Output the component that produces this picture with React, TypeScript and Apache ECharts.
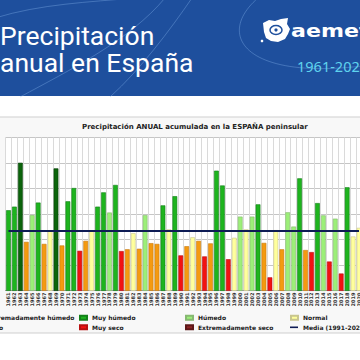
import React, { useEffect, useRef } from "react";
import * as echarts from "echarts";

const YEARS = [
  "1961","1962","1963","1964","1965","1966","1967","1968","1969","1970",
  "1971","1972","1973","1974","1975","1976","1977","1978","1979","1980",
  "1981","1982","1983","1984","1985","1986","1987","1988","1989","1990",
  "1991","1992","1993","1994","1995","1996","1997","1998","1999","2000",
  "2001","2002","2003","2004","2005","2006","2007","2008","2009","2010",
  "2011","2012","2013","2014","2015","2016","2017","2018","2019","2020",
];

const PRECIP = [
  715, 729, 901, 591, 696, 745, 583, 636, 879, 577,
  750, 802, 556, 595, 636, 729, 785, 706, 814, 555,
  562, 625, 564, 696, 586, 583, 734, 640, 770, 538,
  574, 609, 595, 534, 585, 870, 812, 523, 607, 690,
  640, 690, 738, 587, 452, 637, 562, 707, 651, 840,
  559, 551, 743, 695, 514, 682, 467, 805, 612, 646,
];

const CLASS = [
  "MH","MH","EH","S","H","MH","S","N","EH","S",
  "MH","MH","MS","S","N","MH","MH","H","MH","MS",
  "S","N","S","H","S","S","MH","N","MH","MS",
  "S","N","S","MS","S","MH","MH","MS","N","H",
  "N","H","MH","S","MS","N","S","H","H","MH",
  "S","MS","MH","H","MS","H","MS","MH","N","N",
];

const MEAN = 636;
const MEAN_NAME = "Media (1991-2020)";

const Y_MIN = 400;
const Y_MAX = 1000;
const Y_STEP = 100;

const CATEGORIES = [
  { code: "EH", name: "Extremadamente húmedo", color: "#0b640b", border: "#063f06" },
  { code: "MH", name: "Muy húmedo", color: "#1eb41e", border: "#13801a" },
  { code: "H", name: "Húmedo", color: "#9cef78", border: "#86b872" },
  { code: "N", name: "Normal", color: "#ffff9c", border: "#c9c68e" },
  { code: "S", name: "Seco", color: "#f49a10", border: "#c77c12" },
  { code: "MS", name: "Muy seco", color: "#f21212", border: "#b81010" },
  { code: "ES", name: "Extremadamente seco", color: "#8c2626", border: "#5e1818" },
];

const LEGEND_LAYOUT = [
  { name: "Extremadamente húmedo", left: -26, row: 0 },
  { name: "Muy húmedo", left: 79, row: 0 },
  { name: "Húmedo", left: 185, row: 0 },
  { name: "Normal", left: 290, row: 0 },
  { name: "Seco", left: -26, row: 1 },
  { name: "Muy seco", left: 79, row: 1 },
  { name: "Extremadamente seco", left: 185, row: 1 },
  { name: MEAN_NAME, left: 290, row: 1 },
];

const FONT = "DejaVu Sans";

echarts.graphic.registerShape(
  "aemetLogo",
  echarts.graphic.extendPath(
    "M2 5 L8 2 L14 3 L20 1 L27 0 L26 6 L29 11 L27 16 L24 21 L17 24 L10 23 L5 20 L3 14 Z",
    {}
  )
);

export default function App() {
  const ref = useRef<HTMLDivElement>(null);

  useEffect(() => {
    if (!ref.current) return;
    const chart = echarts.init(ref.current, undefined, { renderer: "svg" });

    const barSeries = CATEGORIES.map((c) => ({
      type: "bar",
      name: c.name,
      stack: "p",
      barCategoryGap: "20%",
      data: PRECIP.map((v, i) => (CLASS[i] === c.code ? v : "-")),
      itemStyle: { color: c.color, borderColor: c.border, borderWidth: 0.6 },
      emphasis: { disabled: true },
    }));

    const legends = LEGEND_LAYOUT.map((l) => ({
      data: [l.name],
      left: l.left,
      top: l.row === 0 ? 313.7 : 323.3,
      padding: 0,
      itemWidth: l.name === MEAN_NAME ? 8 : 7,
      itemHeight: l.name === MEAN_NAME ? 1.6 : 4,
      icon: "rect",
      selectedMode: false,
      textStyle: {
        fontSize: 6,
        fontWeight: "bold",
        fontFamily: FONT,
        color: "#222",
        lineHeight: 8,
      },
    }));

    const hdrLine = "rgba(140,185,240,0.35)";

    chart.setOption({
      animation: false,
      backgroundColor: "#ffffff",
      title: {
        text: "Precipitación ANUAL acumulada en la ESPAÑA peninsular",
        left: 82,
        top: 123,
        padding: 0,
        textStyle: { fontSize: 7, fontWeight: "bold", fontFamily: FONT, color: "#222" },
      },
      legend: legends,
      grid: {
        left: 5.5,
        right: -2,
        top: 137.5,
        bottom: 69.4,
        show: true,
        backgroundColor: "#ffffff",
        borderWidth: 0,
        containLabel: false,
        outerBoundsMode: "none",
      },
      xAxis: {
        type: "category",
        data: YEARS,
        axisTick: { show: false },
        axisLine: { lineStyle: { color: "#9a9a9a", width: 1 } },
        splitLine: { show: true, interval: 0, lineStyle: { color: "#dadada", width: 1 } },
        axisLabel: {
          rotate: 90,
          interval: 0,
          fontSize: 5,
          fontWeight: "bold",
          fontFamily: FONT,
          color: "#333",
          margin: 2,
        },
      },
      yAxis: {
        type: "value",
        min: Y_MIN,
        max: Y_MAX,
        interval: Y_STEP,
        axisLine: { show: false },
        axisTick: { show: false },
        splitLine: { lineStyle: { color: "#c6c6c6", width: 1 } },
        axisLabel: { show: false },
      },
      series: [
        ...barSeries,
        {
          type: "line",
          name: MEAN_NAME,
          data: [],
          color: "#0e1c55",
          lineStyle: { color: "#0e1c55", width: 2 },
          markLine: {
            silent: true,
            symbol: "none",
            label: { show: false },
            lineStyle: { color: "#0e1c55", width: 2, type: "solid" },
            data: [
              [
                { coord: [YEARS[0], MEAN] },
                { coord: [YEARS[YEARS.length - 1], MEAN] },
              ],
            ],
          },
        },
      ],
      graphic: [
        {
          type: "rect",
          z: -10,
          shape: { x: -2, y: 117, width: 364, height: 216 },
          style: { fill: "#f8f8f8", stroke: "#cfcfcf", lineWidth: 1 },
        },
        {
          type: "rect",
          z: 100,
          shape: { x: 0, y: 0, width: 360, height: 96 },
          style: { fill: "#1e4f9d" },
        },
        {
          type: "bezierCurve",
          z: 101,
          shape: { x1: -5, y1: 18, cpx1: 40, cpy1: 4, cpx2: 90, cpy2: 2, x2: 135, y2: -2 },
          style: { stroke: hdrLine, lineWidth: 1, fill: "none" },
        },
        {
          type: "bezierCurve",
          z: 101,
          shape: { x1: 20, y1: 97, cpx1: 70, cpy1: 70, cpx2: 130, cpy2: 40, x2: 165, y2: -2 },
          style: { stroke: hdrLine, lineWidth: 1, fill: "none" },
        },
        {
          type: "bezierCurve",
          z: 101,
          shape: { x1: 110, y1: 97, cpx1: 140, cpy1: 70, cpx2: 170, cpy2: 30, x2: 192, y2: -2 },
          style: { stroke: hdrLine, lineWidth: 1, fill: "none" },
        },
        {
          type: "bezierCurve",
          z: 101,
          shape: { x1: 258, y1: -2, cpx1: 215, cpy1: 35, cpx2: 245, cpy2: 80, x2: 362, y2: 66 },
          style: { stroke: hdrLine, lineWidth: 1, fill: "none" },
        },
        {
          type: "text",
          z: 102,
          x: 0,
          y: 35,
          style: {
            text: "Precipitación",
            fill: "#ffffff",
            fontSize: 26.5,
            lineHeight: 26,
            fontFamily: "Roboto",
            fontWeight: 400,
            verticalAlign: "middle",
          },
        },
        {
          type: "text",
          z: 102,
          x: 0,
          y: 62,
          style: {
            text: "anual en España",
            fill: "#ffffff",
            fontSize: 26.5,
            lineHeight: 26,
            fontFamily: "Roboto",
            fontWeight: 400,
            verticalAlign: "middle",
          },
        },
        {
          type: "aemetLogo",
          z: 102,
          x: 261,
          y: 18,
          shape: {},
          style: { fill: "#ffffff" },
        },
        {
          type: "ellipse",
          z: 103,
          shape: { cx: 276, cy: 30, rx: 6, ry: 4.5 },
          style: { fill: "none", stroke: "#1e4f9d", lineWidth: 1.5 },
        },
        {
          type: "circle",
          z: 103,
          shape: { cx: 276, cy: 30, r: 1.6 },
          style: { fill: "#1e4f9d" },
        },
        {
          type: "circle",
          z: 102,
          shape: { cx: 262, cy: 41, r: 1.3 },
          style: { fill: "#ffffff" },
        },
        {
          type: "text",
          z: 102,
          x: 291,
          y: 31.5,
          scaleX: 1.3,
          style: {
            text: "aemet",
            fill: "#ffffff",
            fontSize: 17,
            fontFamily: FONT,
            fontWeight: "bold",
            verticalAlign: "middle",
          },
        },
        {
          type: "text",
          z: 102,
          x: 297,
          y: 66,
          style: {
            text: "1961-2023",
            fill: "#5fd3ee",
            fontSize: 14.5,
            fontFamily: "Noto Sans",
            fontWeight: 400,
            verticalAlign: "middle",
          },
        },
      ],
    });

    return () => chart.dispose();
  }, []);

  return (
    <div
      ref={ref}
      style={{ position: "fixed", left: 0, top: 0, width: 360, height: 360 }}
    />
  );
}
